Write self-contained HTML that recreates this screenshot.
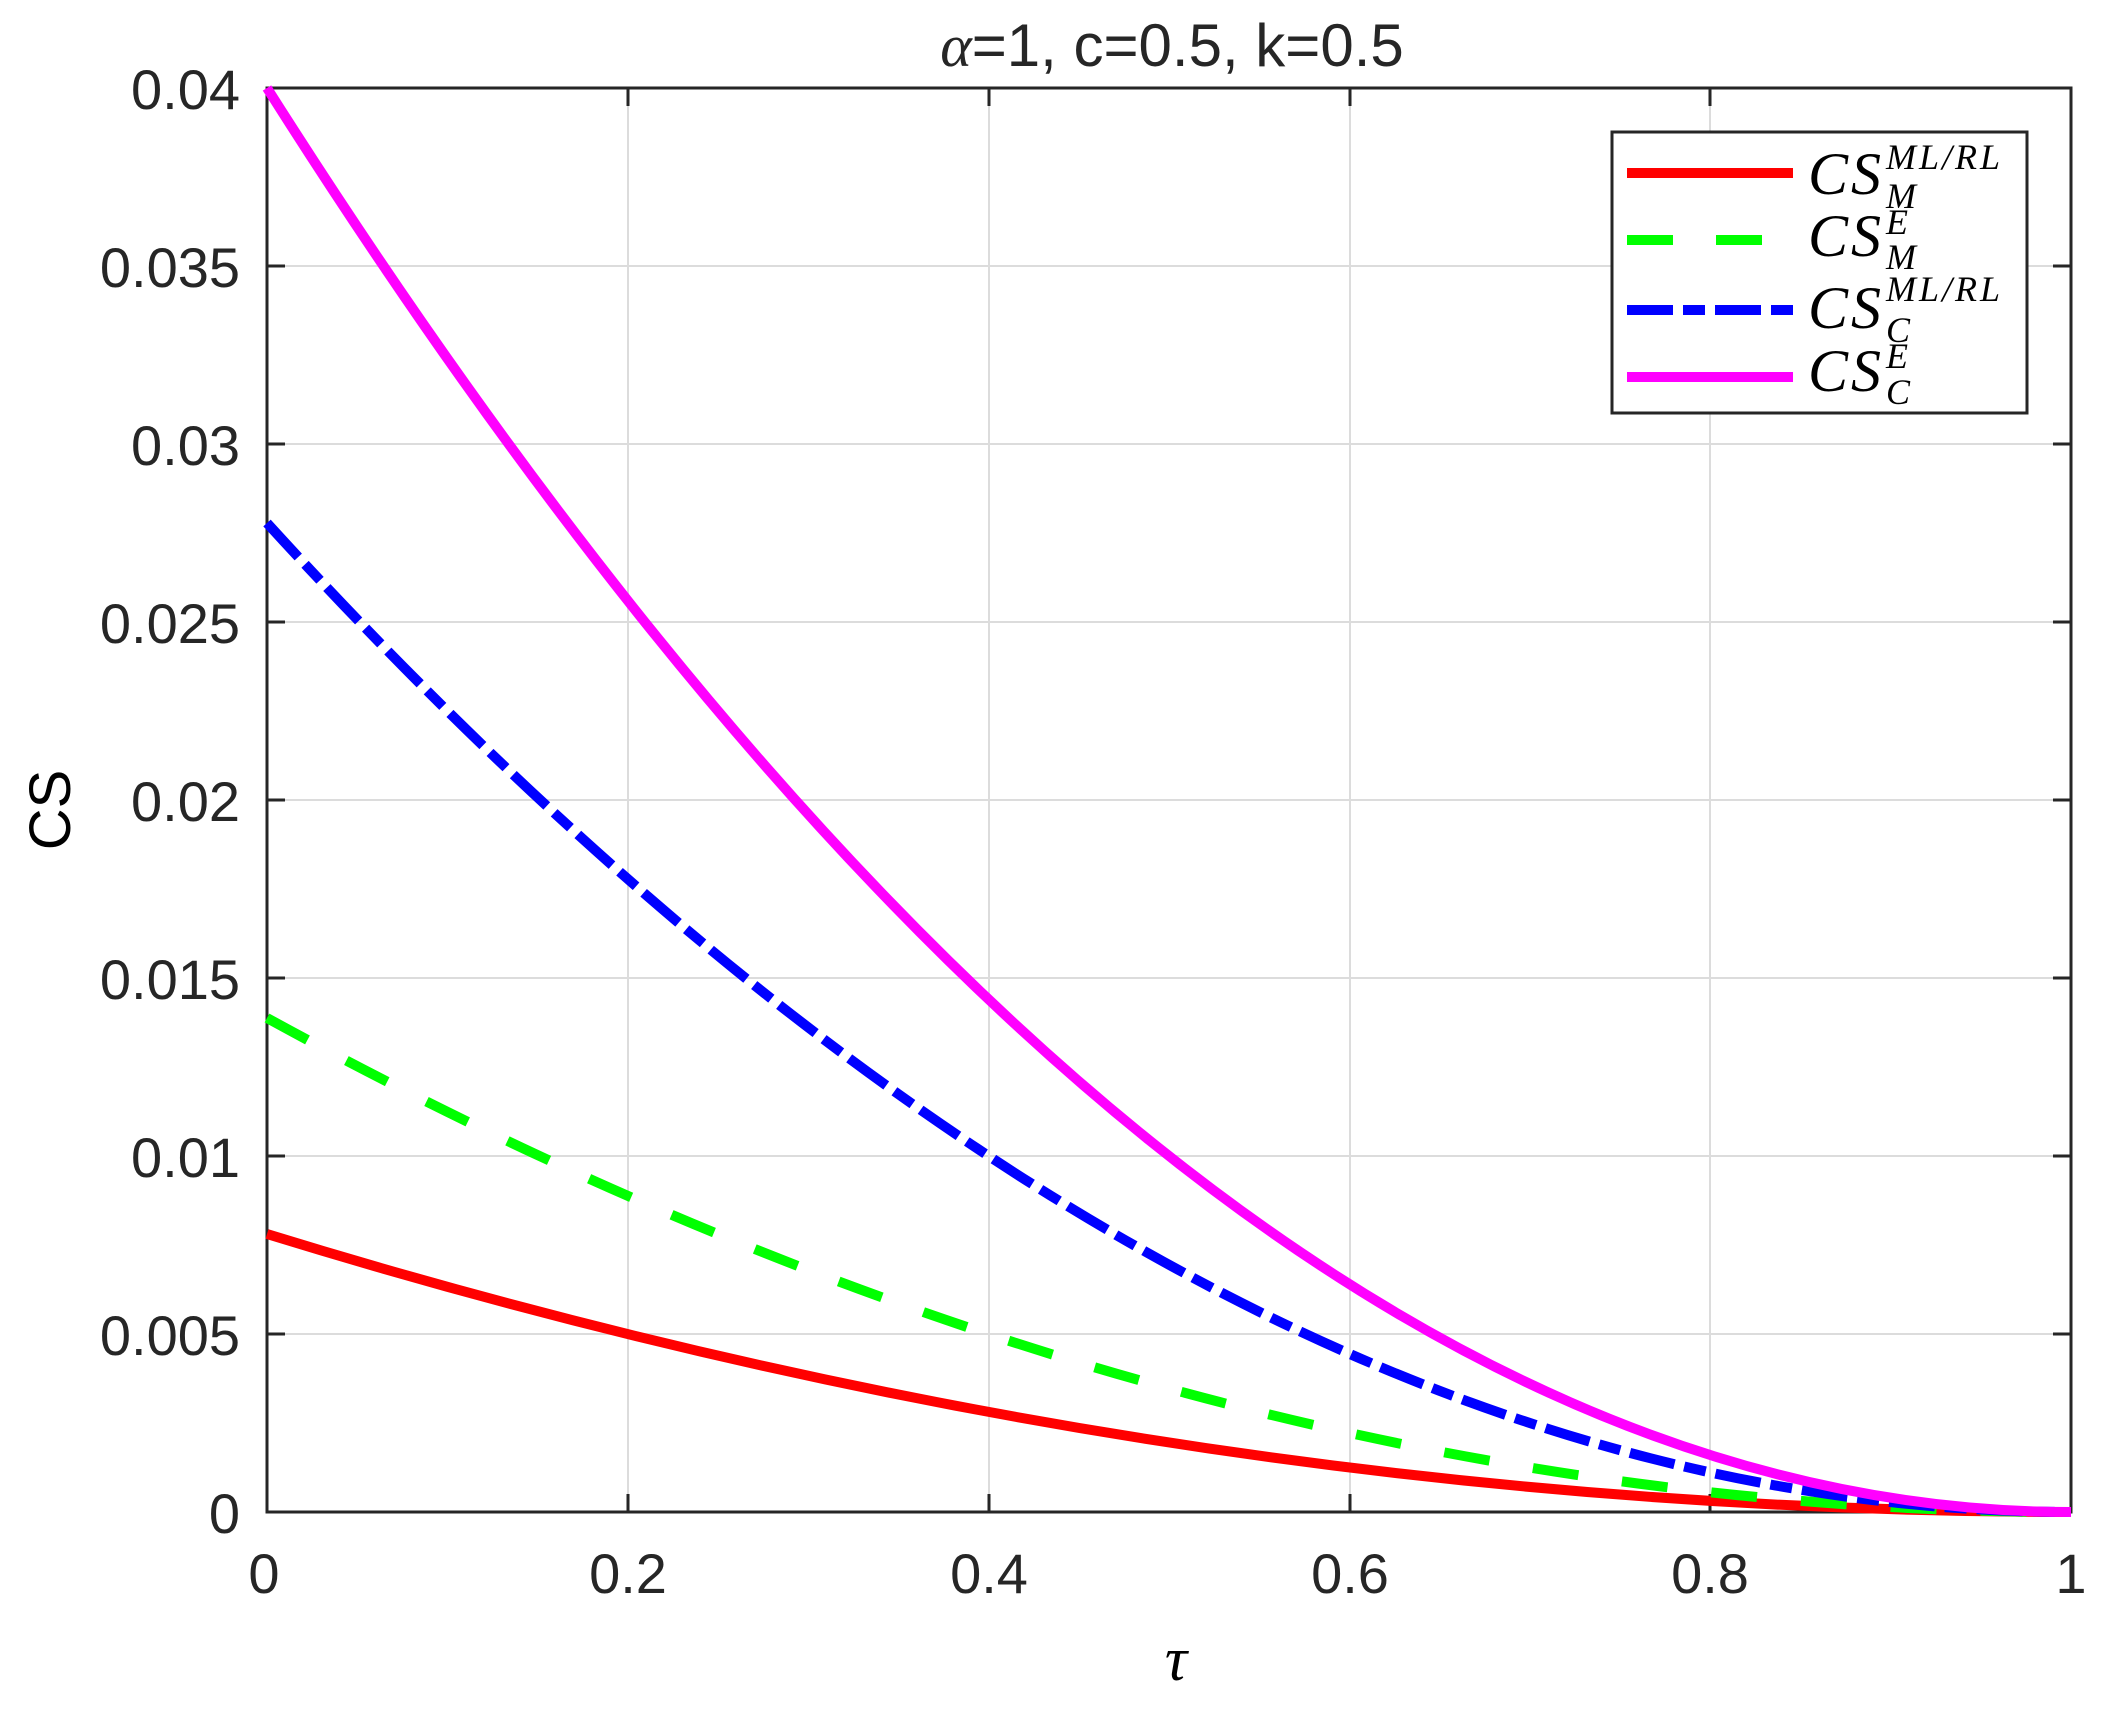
<!DOCTYPE html>
<html><head><meta charset="utf-8"><style>
html,body{margin:0;padding:0;background:#fff;}
svg{display:block;}
.t{font-family:"Liberation Sans",sans-serif;font-size:56px;fill:#262626;}
.lg{font-family:"Liberation Serif",serif;font-style:italic;fill:#000;}
</style></head><body>
<svg width="2103" height="1709" viewBox="0 0 2103 1709" xmlns="http://www.w3.org/2000/svg">
<rect width="2103" height="1709" fill="#fff"/>
<g stroke="#dcdcdc" stroke-width="2">
<line x1="628" y1="88" x2="628" y2="1512"/><line x1="989" y1="88" x2="989" y2="1512"/>
<line x1="1350" y1="88" x2="1350" y2="1512"/><line x1="1710" y1="88" x2="1710" y2="1512"/>
<line x1="267" y1="266" x2="2071" y2="266"/><line x1="267" y1="444" x2="2071" y2="444"/>
<line x1="267" y1="622" x2="2071" y2="622"/><line x1="267" y1="800" x2="2071" y2="800"/>
<line x1="267" y1="978" x2="2071" y2="978"/><line x1="267" y1="1156" x2="2071" y2="1156"/>
<line x1="267" y1="1334" x2="2071" y2="1334"/>
</g>
<g stroke="#262626" stroke-width="3">
<rect x="267" y="88" width="1804" height="1424" fill="none"/>
<path d="M628 1512v-18M989 1512v-18M1350 1512v-18M1710 1512v-18M628 88v18M989 88v18M1350 88v18M1710 88v18"/>
<path d="M267 266h18M267 444h18M267 622h18M267 800h18M267 978h18M267 1156h18M267 1334h18M2071 266h-18M2071 444h-18M2071 622h-18M2071 800h-18M2071 978h-18M2071 1156h-18M2071 1334h-18"/>
</g>
<g fill="none" stroke-width="10">
<path d="M267 1234 Q1169 1512 2071 1512" stroke="#ff0000"/>
<path d="M267 1018 Q1169 1512 2071 1512" stroke="#00ff00" stroke-dasharray="46 44"/>
<path d="M267 523 Q1169 1512 2071 1512" stroke="#0000ff" stroke-dasharray="46 10 22 10"/>
<path d="M267 88 Q1169 1512 2071 1512" stroke="#ff00ff"/>
</g>
<g class="t" text-anchor="end">
<text x="240" y="109">0.04</text><text x="240" y="287">0.035</text><text x="240" y="465">0.03</text>
<text x="240" y="643">0.025</text><text x="240" y="821">0.02</text><text x="240" y="999">0.015</text>
<text x="240" y="1177">0.01</text><text x="240" y="1355">0.005</text><text x="240" y="1533">0</text>
</g>
<g class="t" text-anchor="middle">
<text x="264" y="1593">0</text><text x="628" y="1593">0.2</text><text x="989" y="1593">0.4</text>
<text x="1350" y="1593">0.6</text><text x="1710" y="1593">0.8</text><text x="2071" y="1593">1</text>
<text x="1172" y="66" font-size="60"><tspan font-family="Liberation Serif" font-style="italic">α</tspan>=1, c=0.5, k=0.5</text>
<text x="0" y="0" transform="translate(70,810) rotate(-90)" font-size="58" fill="#000">CS</text>
</g>
<text x="1176" y="1680" class="lg" font-size="62" text-anchor="middle">τ</text>
<rect x="1612" y="132" width="415" height="281" fill="#fff" stroke="#262626" stroke-width="3"/>
<g stroke-width="10">
<line x1="1627" y1="173" x2="1793" y2="173" stroke="#ff0000"/>
<line x1="1627" y1="240" x2="1793" y2="240" stroke="#00ff00" stroke-dasharray="46 43"/>
<line x1="1627" y1="310" x2="1793" y2="310" stroke="#0000ff" stroke-dasharray="46 10 22 10"/>
<line x1="1627" y1="377" x2="1793" y2="377" stroke="#ff00ff"/>
</g>
<g class="lg">
<text x="1808" y="194" font-size="60" letter-spacing="3">CS</text><text x="1886" y="169" font-size="36" letter-spacing="3">ML/RL</text><text x="1886" y="208" font-size="36">M</text>
<text x="1808" y="256" font-size="60" letter-spacing="3">CS</text><text x="1886" y="234" font-size="36">E</text><text x="1886" y="269" font-size="36">M</text>
<text x="1808" y="328" font-size="60" letter-spacing="3">CS</text><text x="1886" y="301" font-size="36" letter-spacing="3">ML/RL</text><text x="1886" y="342" font-size="36">C</text>
<text x="1808" y="391" font-size="60" letter-spacing="3">CS</text><text x="1886" y="368" font-size="36">E</text><text x="1886" y="404" font-size="36">C</text>
</g>
</svg>
</body></html>
